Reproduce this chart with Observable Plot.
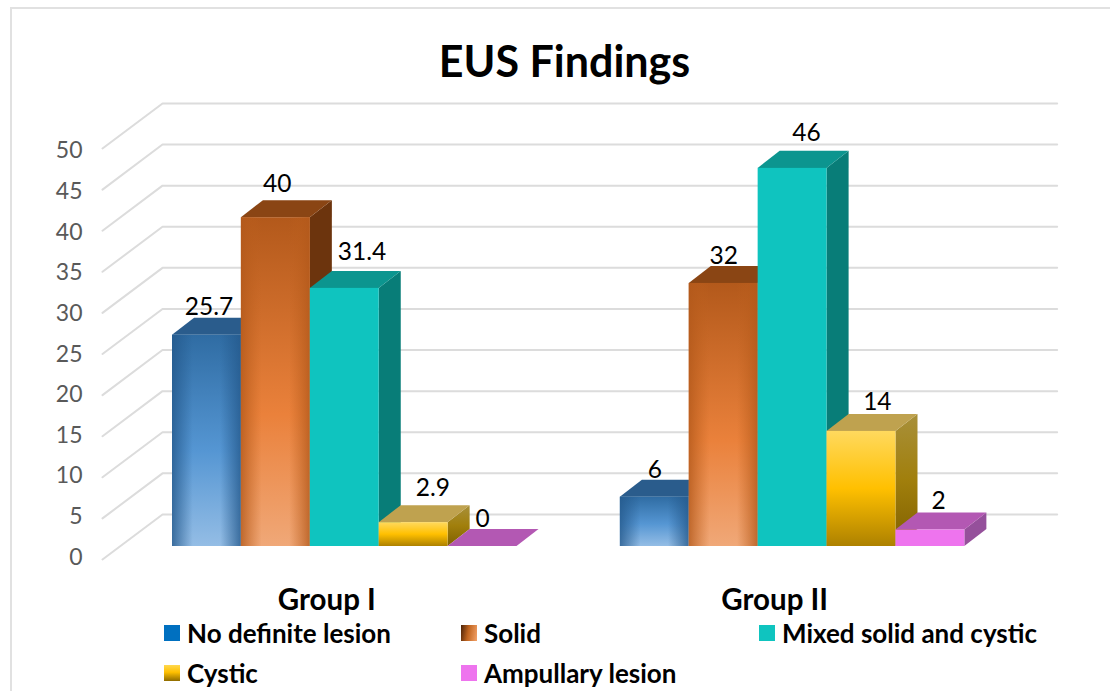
<!DOCTYPE html>
<html>
<head>
<meta charset="utf-8">
<script src="https://cdn.jsdelivr.net/npm/d3@7"></script>
<script src="https://cdn.jsdelivr.net/npm/@observablehq/plot@0.6"></script>
<style>
html,body{margin:0;padding:0;background:#fff;width:1110px;height:691px;overflow:hidden;font-family:Lato,sans-serif}
#page{position:relative;width:1110px;height:691px;overflow:hidden}
#frame{position:absolute;left:10px;top:7px;width:1200px;height:800px;border-left:2px solid #e1e1e1;border-top:2px solid #e1e1e1}
#chart{position:absolute;left:0;top:0}
#chart svg{display:block;overflow:visible;background:transparent}
.key{position:absolute;display:flex;align-items:center;font:bold 26px Lato,sans-serif;color:#000;white-space:nowrap;height:24px}
.key i{display:block;width:16px;height:16px;margin-right:7px}
</style>
</head>
<body>
<div id="page"><div id="frame"></div><div id="chart"></div><div id="legend"></div></div>
<script>
const title = "EUS Findings";
const groups = ["Group I", "Group II"];
const seriesNames = ["No definite lesion", "Solid", "Mixed solid and cystic", "Cystic", "Ampullary lesion"];
const groupOne = [25.7, 40, 31.4, 2.9, 0];
const groupTwo = [6, 32, 46, 14, 2];
const groupValues = [groupOne, groupTwo];
const yTicks = [0, 5, 10, 15, 20, 25, 30, 35, 40, 45, 50];

// appearance per series
const frontFill = ["url(#blueV)", "url(#orangeV)", "#0fc4bf", "url(#yellowV)", "#ee74ee"];
const edgeFill = ["url(#blueH)", "url(#orangeH)", null, null, null];
const topFill = ["#2a5c8c", "#8a4514", "#0c958f", "#bfa24f", "#b358b3"];
const sideFill = ["#1f4e79", "#6c340d", "#087d78", "url(#yellowS)", "#95509b"];
const swatch = ["#0070c0", "linear-gradient(100deg,#4a2208,#c0641f 45%,#f4a36a)", "#0fc4bf", "linear-gradient(#ffd84f,#ffc000 45%,#8f6c00)", "#ee74ee"];

// value-label nudges (slots, value units) from the bar's centre and back edge
const nudgeX = [[0.03, 0.02, 0.25, 0.28, 0], [0, 0, 0.2, 0.23, 0.12]];
const nudgeY = [[1.4, 1.95, 2.3, 2.1, 1.3], [1.2, 1.3, 2.2, 1.5, 1.45]];

// perspective, in slot / value units
const depthX = 0.32, depthY = 2.07;
const wallX = -0.145, wallEndX = 12.84, wallY = 3.9;
const floorX = -1.016, floorY = -1.58;
const groupStep = 6.5;

const bars = groups.flatMap((g, gi) => seriesNames.map((s, si) => {
  const xL = gi * groupStep + si;
  return {group: g, series: s, si, gi, value: groupValues[gi][si], xL, xR: xL + 1};
}));

const gridPts = yTicks.flatMap(t => [
  {t, x: floorX, y: t + floorY},
  {t, x: wallX, y: t + wallY},
  {t, x: wallEndX, y: t + wallY}
]);

function barMarks(b) {
  const v = b.value, {xL, xR} = b;
  const top = [
    {x: xL, y1: v, y2: v},
    {x: xL + depthX, y1: v, y2: v + depthY},
    {x: xR, y1: v, y2: v + depthY},
    {x: xR + depthX, y1: v + depthY, y2: v + depthY}
  ];
  const side = [
    {x: xR, y1: 0, y2: v},
    {x: xR + depthX, y1: depthY, y2: v + depthY}
  ];
  const marks = [
    Plot.areaY(side, {x: "x", y1: "y1", y2: "y2", fill: sideFill[b.si]}),
    Plot.areaY(top, {x: "x", y1: "y1", y2: "y2", fill: topFill[b.si]}),
    Plot.rect([b], {x1: "xL", x2: "xR", y1: 0, y2: "value", fill: frontFill[b.si]})
  ];
  if (edgeFill[b.si] && v > 0) marks.push(Plot.rect([b], {x1: "xL", x2: "xR", y1: 0, y2: "value", fill: edgeFill[b.si]}));
  return marks;
}

const plot = Plot.plot({
  width: 1110,
  height: 640,
  margin: 0,
  x: {type: "linear", domain: [0, 13], range: [172, 172 + 13 * 68.9], axis: null},
  y: {type: "linear", domain: [0, 50], range: [546, 135], axis: null},
  style: {background: "transparent", overflow: "visible"},
  marks: [
    Plot.line(gridPts, {x: "x", y: "y", z: "t", stroke: "#dcdcdc", strokeWidth: 2, curve: "linear"}),
    Plot.text(yTicks, {
      x: floorX, y: t => t * 0.988 - 1.3, text: t => String(t), dx: -20,
      textAnchor: "end", fontSize: 23, fill: "#595959", fontFamily: "Lato"
    }),
    ...bars.flatMap(barMarks),
    Plot.text(bars, {
      x: d => d.xL + 0.5 + nudgeX[d.gi][d.si],
      y: d => d.value + depthY + nudgeY[d.gi][d.si],
      text: d => String(d.value),
      fontSize: 24.5, fill: "#000", fontFamily: "Lato"
    }),
    Plot.text(groups, {
      x: (d, i) => i * groupStep + 2.5 - 0.26,
      y: -6.57,
      text: d => d,
      fontSize: 29.5, fontWeight: 700, fill: "#000", fontFamily: "Lato"
    }),
    Plot.text([title], {
      frameAnchor: "top", lineAnchor: "middle", dx: 9, dy: 63, text: d => d,
      fontSize: 43, fontWeight: 700, fill: "#000", fontFamily: "Lato"
    })
  ]
});

// gradients referenced by the bar fills
const defs = d3.create("svg:defs");
function grad(id, vertical, stops) {
  const g = defs.append("linearGradient").attr("id", id)
    .attr("x1", 0).attr("y1", 0).attr("x2", vertical ? 0 : 1).attr("y2", vertical ? 1 : 0);
  stops.forEach(([o, c, a]) => g.append("stop").attr("offset", o).attr("stop-color", c).attr("stop-opacity", a ?? 1));
}
grad("blueV", true, [[0, "#2f6ca3"], [0.55, "#5596d3"], [1, "#94bde5"]]);
grad("blueH", false, [[0, "#24598c", 0.8], [0.3, "#24598c", 0], [0.7, "#24598c", 0], [1, "#24598c", 0.8]]);
grad("orangeV", true, [[0, "#b3591b"], [0.6, "#ea813b"], [1, "#f0a878"]]);
grad("orangeH", false, [[0, "#b3591b", 0.8], [0.3, "#c0621f", 0], [0.7, "#c0621f", 0], [1, "#b3591b", 0.8]]);
grad("yellowV", true, [[0, "#ffd95e"], [0.5, "#ffc000"], [1, "#ad8100"]]);
grad("yellowS", true, [[0, "#a8903a"], [0.5, "#a17f0c"], [1, "#7f6000"]]);
plot.insertBefore(defs.node(), plot.firstChild);
document.getElementById("chart").append(plot);

// legend
const legendCols = [164, 461, 759, 164, 461];
const legendRows = [621, 621, 621, 661, 661];
const legend = d3.select("#legend");
seriesNames.forEach((name, i) => {
  const k = legend.append("div").attr("class", "key")
    .style("left", legendCols[i] + "px").style("top", legendRows[i] + "px");
  k.append("i").style("background", swatch[i]);
  k.append("span").text(name);
});
</script>
</body>
</html>
